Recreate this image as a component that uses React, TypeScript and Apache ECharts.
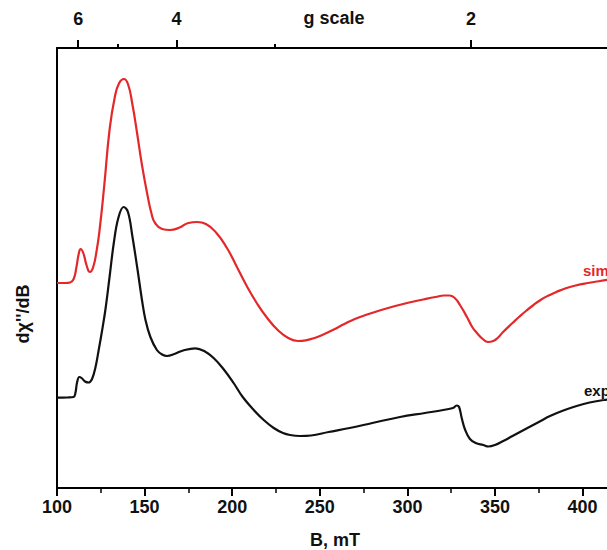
import React, { useEffect, useRef } from "react";
import * as echarts from "echarts";

// Magnetic field B (mT) and derivative intensity (arbitrary units, read as screen rows)
const simB = [100, 105, 107.4, 109.5, 111, 112.5, 113.5, 115, 117, 118.8, 120.5, 122.5, 124.5, 127, 130, 133, 135.5, 138.2, 140.5, 143, 145.7, 148.5, 151.4, 154, 156, 160, 164.5, 170, 175, 180, 185, 191, 197, 202.7, 208, 214, 220, 226, 232, 237.6, 242, 247, 252, 258, 264, 270, 277, 285, 293, 301, 309, 316, 321, 324, 327, 330, 334, 337, 339.7, 343, 346, 349, 351.5, 354.6, 360, 364, 368, 372, 376, 380, 385, 390, 396, 403, 410, 418];
const simY = [283, 283, 282.5, 279, 268, 253, 249, 253, 266, 272, 268, 252, 227, 185, 130, 97, 83, 79, 84, 104, 133, 165, 193, 214, 223, 229, 230, 227.5, 223, 222, 224, 233, 248, 267, 285, 303, 318, 330, 338, 341, 340.3, 338, 334.5, 329.5, 324, 319, 314.5, 310, 306, 302.5, 299.5, 297, 295.5, 295.5, 298, 305, 317, 327, 333, 339, 342, 341, 338, 332, 323, 316.5, 310.5, 305, 300, 296, 292, 288.5, 285.5, 283, 281, 279];

const expB = [100, 106, 109.5, 110.5, 111.5, 112.7, 114, 116, 118, 120, 122, 123.8, 125.5, 127.6, 130, 132.5, 135, 138, 140.5, 143, 146, 148.5, 150.5, 153.3, 157, 160, 162.8, 167, 172, 179, 184, 189.4, 195, 200.8, 206, 212.3, 218, 223.7, 229, 233, 238.7, 245, 255, 267, 280, 295.8, 310, 320.5, 326, 328.1, 329.5, 331, 333, 335.7, 339, 343.3, 346.2, 350, 354.7, 360, 368, 375, 381.4, 389, 396.6, 404, 412, 418];
const expY = [397.7, 397.5, 397, 393, 382, 377, 378, 381.5, 382.5, 379, 367, 350, 333, 310, 277, 242, 218, 207, 212, 236, 270, 300, 320, 337, 350, 354.5, 356, 354, 350.5, 348.3, 351, 358, 369, 383, 397, 410, 420, 428, 433, 435, 436, 435.5, 432, 428, 423, 417, 413, 410, 408, 405.5, 407, 418, 430, 439, 443, 445, 446.5, 445, 441, 436, 428.5, 422, 416, 410.5, 406, 402.5, 400, 399];

// g-scale (top axis): g = G_FACTOR / B
const G_FACTOR = 672.6;
const gMajor = [6, 4, 2];
const gMinor = [5, 3];

const X_MIN = 100;
const X_MAX = 450;
const X_STEP = 50;
const PIX_BASE = 488;

const FONT = "'Liberation Sans', Arial, Helvetica, sans-serif";
const RED = "#e4282a";
const FS = 18;

export default function App() {
  const ref = useRef<HTMLDivElement>(null);
  useEffect(() => {
    if (!ref.current) return;
    const chart = echarts.init(ref.current, undefined, { renderer: "svg" });
    const sim = simB.map((b, i) => [b, PIX_BASE - simY[i]]);
    const exp = expB.map((b, i) => [b, PIX_BASE - expY[i]]);
    const axisLineStyle = { color: "#000", width: 2 };
    chart.setOption({
      animation: false,
      backgroundColor: "#fff",
      grid: { left: 57, top: 48, right: 29.8, bottom: 62 },
      xAxis: [
        {
          type: "value",
          position: "bottom",
          min: X_MIN,
          max: X_MAX,
          interval: X_STEP,
          axisLine: { show: true, lineStyle: axisLineStyle },
          axisTick: { show: true, length: 8, lineStyle: { color: "#000", width: 2 } },
          minorTick: { show: true, splitNumber: 2, length: 5, lineStyle: { color: "#000", width: 1.5 } },
          axisLabel: { color: "#111", fontSize: FS, fontWeight: "bold", fontFamily: FONT, margin: 10, showMaxLabel: false },
          splitLine: { show: false },
        },
        {
          type: "value",
          position: "top",
          min: X_MIN,
          max: X_MAX,
          axisLine: { show: true, onZero: false, lineStyle: axisLineStyle },
          axisTick: { show: true, length: 8, customValues: gMajor.map((g) => G_FACTOR / g), lineStyle: { color: "#000", width: 2 } },
          axisLabel: {
            show: true,
            customValues: gMajor.map((g) => G_FACTOR / g),
            formatter: (v: number) => String(Math.round(G_FACTOR / v)),
            color: "#111",
            fontSize: FS,
            fontWeight: "bold",
            fontFamily: FONT,
            margin: 20,
          },
          splitLine: { show: false },
        },
        {
          type: "value",
          position: "top",
          min: X_MIN,
          max: X_MAX,
          axisLine: { show: false },
          axisTick: { show: true, length: 4, customValues: gMinor.map((g) => G_FACTOR / g), lineStyle: { color: "#000", width: 2 } },
          axisLabel: { show: false },
          splitLine: { show: false },
        },
      ],
      yAxis: {
        type: "value",
        min: 0,
        max: 440,
        axisLine: { show: true, lineStyle: axisLineStyle },
        axisTick: { show: false },
        axisLabel: { show: false },
        splitLine: { show: false },
      },
      series: [
        {
          name: "sim",
          type: "line",
          data: sim,
          showSymbol: false,
          smooth: 0.5,
          lineStyle: { color: RED, width: 2.2 },
          itemStyle: { color: RED },
          z: 3,
        },
        {
          name: "exp",
          type: "line",
          data: exp,
          showSymbol: false,
          smooth: 0.4,
          lineStyle: { color: "#111", width: 2.2 },
          itemStyle: { color: "#111" },
          z: 3,
        },
      ],
      graphic: [
        {
          type: "text",
          x: 334,
          y: 18,
          style: { text: "g scale", fill: "#111", font: `bold ${FS}px ${FONT}`, textAlign: "center", textVerticalAlign: "middle" },
        },
        {
          type: "text",
          x: 335,
          y: 540,
          style: { text: "B, mT", fill: "#111", font: `bold ${FS}px ${FONT}`, textAlign: "center", textVerticalAlign: "middle" },
        },
        {
          type: "text",
          x: 23,
          y: 314,
          rotation: Math.PI / 2,
          style: { text: "dχ''/dB", fill: "#111", font: `bold ${FS}px ${FONT}`, textAlign: "center", textVerticalAlign: "middle" },
        },
        {
          type: "text",
          x: 583,
          y: 270,
          style: { text: "sim", fill: RED, font: `bold 15px ${FONT}`, textAlign: "left", textVerticalAlign: "middle" },
        },
        {
          type: "text",
          x: 584,
          y: 390,
          style: { text: "exp", fill: "#111", font: `bold 15px ${FONT}`, textAlign: "left", textVerticalAlign: "middle" },
        },
      ],
    });
    return () => chart.dispose();
  }, []);
  return (
    <div style={{ position: "absolute", left: 0, top: 0, width: 607, height: 550, overflow: "hidden", background: "#fff" }}>
      <div ref={ref} style={{ width: 700, height: 550 }} />
    </div>
  );
}
